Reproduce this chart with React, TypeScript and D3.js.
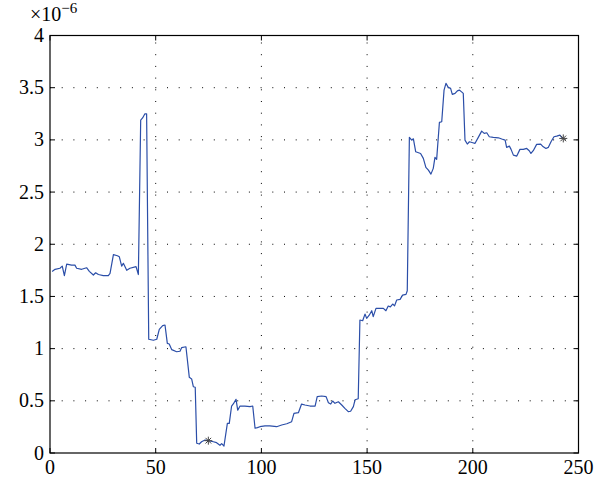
import React from "react";
import * as d3 from "d3";

// Sample index and value (in units of 1e-6)
const sampleX = [
  1, 2.4, 4.7, 5.8, 6.8, 7.9, 10.2, 11.8, 12.6, 15, 17.3, 18.6, 20.5, 21.6, 22.9, 25.2, 27.6, 28.4,
  30, 31.9, 32.8, 33.9, 34.7, 36.3, 37.8, 40.7, 41.8, 42.9, 43.8, 44.9, 45.7, 46.7, 48.9, 50.5,
  51.7, 53.3, 54.4, 55.5, 56.4, 57.6, 59.9, 61.5, 62.3, 64.3, 65.9, 67, 67.8, 68.7, 69.4, 70.6,
  71.7, 73.3, 74.9, 77.3, 78.8, 80.4, 81.2, 82.3, 83.9, 84.8, 85.9, 86.7, 88, 88.8, 89.9, 92.2,
  94.6, 95.9, 97, 98.1, 99.3, 101.7, 104, 107.2, 109.6, 112, 114.3, 115.4, 117.5, 119, 120.6, 123,
  125.4, 126.4, 128.5, 130.6, 131.7, 132.8, 133.7, 134.8, 136.4, 138, 139.5, 141.1, 142.2, 143.5,
  144.3, 145.8, 146.6, 147.9, 149, 149.8, 151, 152.2, 152.9, 154.2, 157.7, 158.9, 160, 161, 162.1,
  163, 164, 165.6, 166.8, 168.4, 169, 170, 171.1, 171.9, 173, 175.3, 176.6, 177.8, 179, 180.2,
  181.3, 182.1, 182.9, 184.2, 185.3, 186.4, 187.3, 188.4, 189.5, 190.3, 191.6, 192.7, 193.6, 194.7,
  195.5, 196.3, 197.4, 198.4, 200, 201, 202.6, 204.2, 205.4, 206.6, 207.8, 209.7, 212.1, 213.7,
  215.3, 216, 217.3, 218.1, 219.2, 220.8, 222.3, 223.9, 225.5, 226.7, 227.5, 228.6, 230.2, 232.1,
  233, 234.6, 235.7, 237, 238.4, 239.7, 241.2, 242.3,
];
const sampleY = [
  1.74, 1.76, 1.77, 1.79, 1.7, 1.81, 1.8, 1.8, 1.77, 1.76, 1.775, 1.74, 1.705, 1.727, 1.71, 1.7, 1.7, 1.72,
  1.9, 1.89, 1.88, 1.79, 1.817, 1.75, 1.77, 1.785, 1.71, 3.19, 3.21, 3.25, 3.25, 1.09, 1.08, 1.09,
  1.185, 1.22, 1.226, 1.05, 1.044, 0.99, 0.97, 0.975, 1.01, 1.018, 0.725, 0.71, 0.635, 0.63, 0.093, 0.086,
  0.108, 0.124, 0.118, 0.108, 0.099, 0.074, 0.09, 0.067, 0.284, 0.284, 0.45, 0.47, 0.514, 0.41, 0.45, 0.45,
  0.444, 0.45, 0.237, 0.243, 0.252, 0.259, 0.259, 0.252, 0.268, 0.28, 0.3, 0.38, 0.386, 0.469, 0.46, 0.45,
  0.45, 0.54, 0.546, 0.54, 0.482, 0.469, 0.498, 0.476, 0.491, 0.46, 0.428, 0.396, 0.4, 0.444,
  0.51, 0.52, 1.274, 1.267, 1.331, 1.29, 1.32, 1.363, 1.306, 1.386, 1.386, 1.363, 1.408, 1.4, 1.427,
  1.41, 1.466, 1.472, 1.513, 1.52, 1.555, 3.024, 2.998, 3.01, 2.886, 2.87, 2.823, 2.737, 2.71, 2.672,
  2.727, 2.832, 2.813, 3.167, 3.174, 3.477, 3.541, 3.503, 3.493, 3.436, 3.445, 3.47, 3.477, 3.46,
  3.445, 2.998, 2.96, 2.982, 2.972, 2.966, 3.024, 3.084, 3.062, 3.068, 3.03, 3.024, 3.02, 3.008,
  2.998, 2.928, 2.94, 2.909, 2.854, 2.845, 2.909, 2.909, 2.918, 2.896, 2.87, 2.896, 2.957, 2.96,
  2.94, 2.918, 2.928, 2.982, 3.03, 3.036, 3.046, 3.02,
];

// Marked points (asterisks)
const markX = [74.9, 242.8];
const markY = [0.118, 3.014];

const xTicks = [0, 50, 100, 150, 200, 250];
const yTicks = [0, 0.5, 1, 1.5, 2, 2.5, 3, 3.5, 4];

const W = 612;
const H = 480;
const left = 50;
const right = 578.5;
const top = 35.5;
const bottom = 453;
const serif = "Liberation Serif";

export default function App() {
  const x = d3.scaleLinear().domain([0, 250]).range([left, right]);
  const y = d3.scaleLinear().domain([0, 4]).range([bottom, top]);
  const pts: [number, number][] = sampleX.map((v, i) => [v, sampleY[i]]);
  const line = d3
    .line<[number, number]>()
    .x((d) => x(d[0]))
    .y((d) => y(d[1]));

  const tickLen = 5;
  const star = (cx: number, cy: number, key: number) => {
    const r = 4;
    const segs = [0, 45, 90, 135].map((a) => {
      const rad = (a * Math.PI) / 180;
      return (
        <line
          key={a}
          x1={cx - r * Math.cos(rad)}
          y1={cy - r * Math.sin(rad)}
          x2={cx + r * Math.cos(rad)}
          y2={cy + r * Math.sin(rad)}
          stroke="#444"
          strokeWidth={1}
        />
      );
    });
    return <g key={key}>{segs}</g>;
  };

  return (
    <div style={{ fontFamily: serif }}>
      <svg
        width={W}
        height={H}
        fontFamily={serif}
        style={{ position: "absolute", left: 0, top: 0, background: "#fff" }}
      >
        {/* dotted grid */}
        {xTicks.slice(1, -1).map((t) => (
          <line
            key={"gx" + t}
            x1={x(t)}
            x2={x(t)}
            y1={bottom}
            y2={top}
            stroke="#000"
            strokeWidth={1}
            strokeDasharray="1 10.7"
          />
        ))}
        {yTicks.slice(1, -1).map((t) => (
          <line
            key={"gy" + t}
            x1={left}
            x2={right}
            y1={y(t)}
            y2={y(t)}
            stroke="#000"
            strokeWidth={1}
            strokeDasharray="1 10.7"
          />
        ))}

        {/* ticks on all four sides, pointing inward */}
        {xTicks.map((t) => (
          <g key={"tx" + t}>
            <line x1={x(t)} x2={x(t)} y1={bottom} y2={bottom - tickLen} stroke="#000" />
            <line x1={x(t)} x2={x(t)} y1={top} y2={top + tickLen} stroke="#000" />
          </g>
        ))}
        {yTicks.map((t) => (
          <g key={"ty" + t}>
            <line x1={left} x2={left + tickLen} y1={y(t)} y2={y(t)} stroke="#000" />
            <line x1={right} x2={right - tickLen} y1={y(t)} y2={y(t)} stroke="#000" />
          </g>
        ))}

        {/* data line */}
        <path d={line(pts) ?? ""} fill="none" stroke="#2b4ea8" strokeWidth={1.2} strokeLinejoin="round" />
        {markX.map((v, i) => star(x(v), y(markY[i]), i))}

        {/* frame */}
        <rect
          x={left}
          y={top}
          width={right - left}
          height={bottom - top}
          fill="none"
          stroke="#000"
          strokeWidth={1.2}
        />

        {/* tick labels */}
        {xTicks.map((t) => (
          <text
            key={"lx" + t}
            x={x(t)}
            y={bottom + 21}
            textAnchor="middle"
            fontFamily={serif}
            fontSize={20}
            fill="#000"
          >
            {t}
          </text>
        ))}
        {yTicks.map((t) => (
          <text
            key={"ly" + t}
            x={left - 6}
            y={y(t)}
            dy="0.33em"
            textAnchor="end"
            fontFamily={serif}
            fontSize={20}
            fill="#000"
          >
            {t}
          </text>
        ))}

        {/* scale factor */}
        <text x={30} y={21} fontFamily={serif} fontSize={20} fill="#000">
          ×10
          <tspan dy={-8} fontSize={15}>
            −6
          </tspan>
        </text>
      </svg>
    </div>
  );
}
